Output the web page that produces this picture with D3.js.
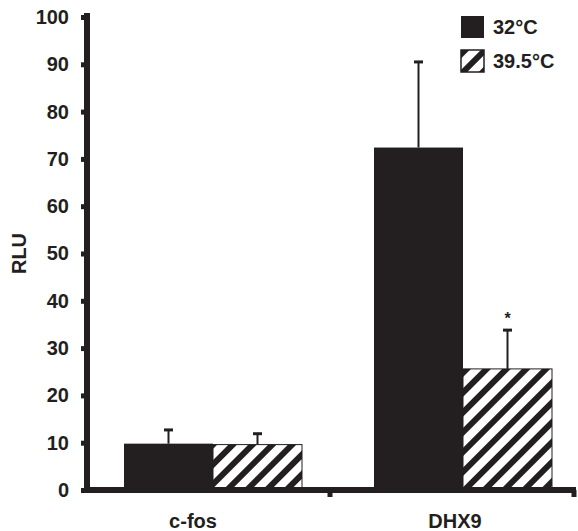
<!DOCTYPE html>
<html>
<head>
<meta charset="utf-8">
<script src="https://cdn.jsdelivr.net/npm/d3@7"></script>
<style>
  body { margin: 0; background: #fff; }
  text { font-family: "Liberation Sans", Arial, sans-serif; font-weight: bold; fill: #231f20; }
</style>
</head>
<body>
<svg id="chart"></svg>
<script>
// data
const categories = ["c-fos", "DHX9"]
const temps = ["32°C", "39.5°C"]
const values32 = [9.8, 72.4]
const values395 = [9.6, 25.6]
const errors32 = [2.9, 18.1]
const errors395 = [2.3, 8.2]
const marks = ["", "*"]
const yTicks = [0, 10, 20, 30, 40, 50, 60, 70, 80, 90, 100]

const width = 578
const height = 531
const ink = "#231f20"

const rows = []
categories.forEach((c, i) => {
    rows.push({ cat: c, temp: temps[0], value: values32[i], err: errors32[i], mark: "" })
    rows.push({ cat: c, temp: temps[1], value: values395[i], err: errors395[i], mark: marks[i] })
})

const svg = d3.select('#chart')
    .attr('width', width)
    .attr('height', height)

// hatch pattern
svg.append('defs').append('pattern')
    .attr('id', 'hatch')
    .attr('patternUnits', 'userSpaceOnUse')
    .attr('width', 14)
    .attr('height', 14)
    .attr('patternTransform', 'rotate(45)')
    .call(p => {
        p.append('rect').attr('width', 14).attr('height', 14).attr('fill', '#fff')
        p.append('rect').attr('width', 6).attr('height', 14).attr('fill', ink)
    })

const fillFor = t => t === temps[0] ? ink : 'url(#hatch)'

// scales
const x = d3.scaleBand()
    .domain(categories)
    .range([80, 580])

const xInner = d3.scaleBand()
    .domain(temps)
    .range([44, 222])

const y = d3.scaleLinear()
    .domain([0, 100])
    .range([490, 17])

const axisX = 87

// bars
svg.append('g')
    .selectAll('rect')
    .data(rows)
    .enter()
    .append('rect')
    .attr('x', d => x(d.cat) + xInner(d.temp))
    .attr('y', d => y(d.value))
    .attr('width', xInner.bandwidth())
    .attr('height', d => y(0) - y(d.value))
    .attr('fill', d => fillFor(d.temp))
    .attr('stroke', d => d.temp === temps[0] ? 'none' : ink)
    .attr('stroke-width', 1)

// error bars (upper only)
const errG = svg.append('g')
rows.forEach(d => {
    const cx = x(d.cat) + xInner(d.temp) + xInner.bandwidth() / 2
    errG.append('line')
        .attr('x1', cx).attr('x2', cx)
        .attr('y1', y(d.value)).attr('y2', y(d.value + d.err))
        .attr('stroke', ink).attr('stroke-width', 2)
    errG.append('line')
        .attr('x1', cx - 4.5).attr('x2', cx + 4.5)
        .attr('y1', y(d.value + d.err)).attr('y2', y(d.value + d.err))
        .attr('stroke', ink).attr('stroke-width', 3)
    if (d.mark) {
        errG.append('text')
            .attr('x', cx)
            .attr('y', y(d.value + d.err) - 6)
            .attr('text-anchor', 'middle')
            .attr('font-size', 16)
            .text(d.mark)
    }
})

// y axis
const yAxis = d3.axisLeft(y)
    .tickValues(yTicks)
    .tickSize(4)
    .tickPadding(12)

svg.append('g')
    .attr('transform', `translate(${axisX - 2}, 0)`)
    .call(yAxis)
    .call(g => g.select('.domain').remove())
    .call(g => g.selectAll('.tick line').attr('stroke', ink).attr('stroke-width', 5))
    .call(g => g.selectAll('.tick text')
        .attr('font-size', 20)
        .attr('font-family', '"Liberation Sans", Arial, sans-serif')
        .attr('fill', ink))

svg.append('line')
    .attr('x1', axisX).attr('x2', axisX)
    .attr('y1', y(100) - 4).attr('y2', y(0) + 3)
    .attr('stroke', ink).attr('stroke-width', 6)

// x axis
svg.append('line')
    .attr('x1', axisX - 3).attr('x2', 576)
    .attr('y1', y(0)).attr('y2', y(0))
    .attr('stroke', ink).attr('stroke-width', 6)

svg.append('g')
    .selectAll('line')
    .data(categories)
    .enter()
    .append('line')
    .attr('x1', d => Math.min(x(d) + x.step(), width - 4))
    .attr('x2', d => Math.min(x(d) + x.step(), width - 4))
    .attr('y1', y(0)).attr('y2', y(0) + 7)
    .attr('stroke', ink).attr('stroke-width', 5)

svg.append('g')
    .selectAll('text')
    .data(categories)
    .enter()
    .append('text')
    .attr('x', d => x(d) + x.bandwidth() / 2 - (d === categories[0] ? 12 : 0))
    .attr('y', 528)
    .attr('text-anchor', 'middle')
    .attr('font-size', 20)
    .text(d => d)

// y label
svg.append('text')
    .attr('transform', `translate(26, ${y(50)}) rotate(-90)`)
    .attr('text-anchor', 'middle')
    .attr('font-size', 20)
    .text('RLU')

// legend
const legend = svg.append('g')
    .selectAll('g')
    .data(temps)
    .enter()
    .append('g')
    .attr('transform', (d, i) => `translate(461, ${16 + i * 34})`)

legend.append('rect')
    .attr('width', 23)
    .attr('height', 22)
    .attr('fill', d => fillFor(d))
    .attr('stroke', d => d === temps[0] ? 'none' : ink)
    .attr('stroke-width', 1.5)

legend.append('text')
    .attr('x', 32)
    .attr('y', 18)
    .attr('font-size', 20)
    .text(d => d)
</script>
</body>
</html>
